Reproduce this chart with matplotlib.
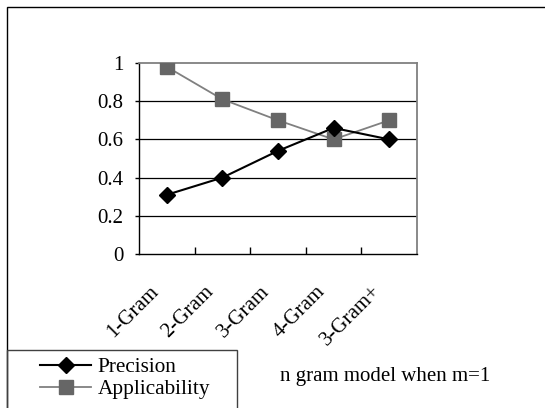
import matplotlib.pyplot as plt
import numpy as np
from matplotlib.patches import Rectangle
from matplotlib.transforms import ScaledTranslation

# categories and series
labels = ['1-Gram', '2-Gram', '3-Gram', '4-Gram', '3-Gram+']
precision = [0.31, 0.40, 0.54, 0.66, 0.60]
applicability = [0.98, 0.81, 0.70, 0.60, 0.70]
x = np.arange(len(labels))

plt.rcParams.update({
    'font.family': 'Liberation Serif',
    'font.size': 15,
})

W, H = 545, 408
fig = plt.figure(figsize=(W / 100, H / 100), dpi=100)
ax = fig.add_axes([139 / W, 1 - 254 / H, (417 - 139) / W, (254 - 63) / H])

ax.plot(x, applicability, color='#808080', linewidth=1.3, marker='s', markersize=10.5,
        markerfacecolor='#666666', markeredgecolor='#666666', label='Applicability', zorder=3)
ax.plot(x, precision, color='black', linewidth=1.5, marker='D', markersize=8.5,
        markerfacecolor='black', label='Precision', zorder=4)

ax.set_xlim(-0.5, len(labels) - 0.5)
ax.set_ylim(0, 1)
ax.set_yticks(np.arange(0, 1.01, 0.2))
ax.set_yticklabels(['0', '0.2', '0.4', '0.6', '0.8', '1'])
for yv in [0.2, 0.4, 0.6, 0.8]:
    ax.axhline(yv, color='black', linewidth=0.9, zorder=1)

ax.spines['top'].set_color('#808080')
ax.spines['right'].set_color('#808080')
ax.spines['top'].set_linewidth(1.3)
ax.spines['right'].set_linewidth(1.3)
ax.spines['left'].set_linewidth(1.0)
ax.spines['bottom'].set_linewidth(1.0)

# boundary ticks on the category axis, labels centered on categories
ax.set_xticks(np.arange(0.5, len(labels) - 0.5, 1))
ax.set_xticklabels([])
ax.set_xticks(x, minor=True)
ax.set_xticklabels(labels, minor=True, rotation=45, ha='right', rotation_mode='anchor')
ax.tick_params(axis='x', which='major', direction='in', length=5, width=1)
ax.tick_params(axis='x', which='minor', length=0, pad=20)
ax.tick_params(axis='y', direction='out', length=3, width=1, pad=8)
shift = ScaledTranslation(-18 / 100, 0, fig.dpi_scale_trans)
for t in ax.get_xticklabels(minor=True):
    t.set_transform(t.get_transform() + shift)

# outer frame
fig.patches.append(Rectangle((7 / W, -0.1), 1, (H - 7) / H + 0.1, transform=fig.transFigure,
                             fill=False, edgecolor='black', linewidth=1))
# legend box
fig.patches.append(Rectangle((7 / W, -0.1), (237 - 7) / W, (H - 350) / H + 0.1,
                             transform=fig.transFigure, fill=False, edgecolor='#404040', linewidth=1))

h, l = ax.get_legend_handles_labels()
fig.legend([h[1], h[0]], [l[1], l[0]], loc='upper left', bbox_to_anchor=(36 / W, 1 - 353 / H),
           frameon=False, fontsize=15.3, handlelength=2.4, handletextpad=0.3, labelspacing=0.1,
           borderpad=0.2, borderaxespad=0)

fig.text(280 / W, 1 - 376 / H, 'n gram model when m=1', fontsize=15, va='center', ha='left')

plt.savefig('out.png', dpi=100)
